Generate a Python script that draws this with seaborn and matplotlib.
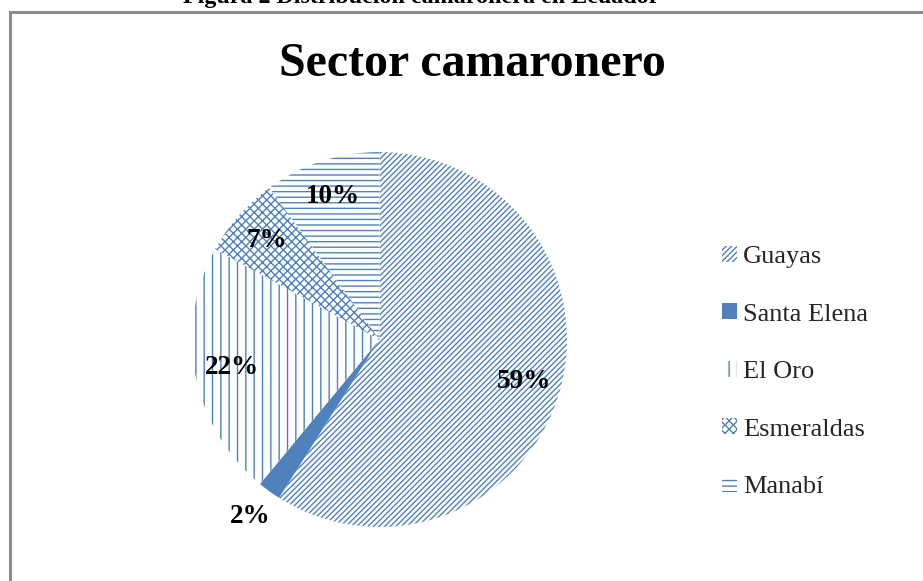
import numpy as np
import matplotlib
matplotlib.use("Agg")
import matplotlib.pyplot as plt
import seaborn as sns
from matplotlib.patches import Rectangle

categories = ["Guayas", "Santa Elena", "El Oro", "Esmeraldas", "Manabí"]
shares = [59, 2, 22, 7, 10]
pct_labels = ["59%", "2%", "22%", "7%", "10%"]
title = "Sector camaronero"
caption = "Figura 2 Distribución camaronera en Ecuador"

sns.set_theme(style="white")
plt.rcParams["font.family"] = ["Liberation Serif", "DejaVu Serif"]
plt.rcParams["hatch.linewidth"] = 1.0

blue = "#4F81BD"
hatches = ["//////", None, "||", "xxxx", "---"]

W, H = 923, 581
fig = plt.figure(figsize=(W / 100, H / 100), dpi=100)

# outer chart frame
fig.patches.append(Rectangle((9.5 / W, -0.05), 1.2, 1 - 11.5 / H + 0.05,
                             transform=fig.transFigure, fill=False,
                             edgecolor="#8c8c8c", linewidth=2.2))

cx, cy, r = 379.5, 339.5, 187.5
ax = fig.add_axes([(cx - r) / W, (H - cy - r) / H, 2 * r / W, 2 * r / H])
wedges, _ = ax.pie(shares, startangle=90, counterclock=False, radius=1,
                   wedgeprops=dict(linewidth=0))
for w, h in zip(wedges, hatches):
    if h is None:
        w.set_facecolor(blue)
        w.set_edgecolor(blue)
    else:
        w.set_facecolor("white")
        w.set_edgecolor(blue)
        w.set_hatch(h)
ax.set_xlim(-1, 1)
ax.set_ylim(-1, 1)
ax.set_aspect("equal")
ax.axis("off")

for w, lab, v in zip(wedges, pct_labels, shares):
    ang = np.deg2rad((w.theta1 + w.theta2) / 2)
    d = 1.17 if v < 5 else 0.8
    ax.text(d * np.cos(ang), d * np.sin(ang), lab, ha="center", va="center",
            fontsize=19.5, fontweight="bold", color="black")

fig.text(472 / W, 1 - 76 / H, title, ha="center", va="baseline",
         fontsize=34.5, fontweight="bold", color="black")
fig.text(421 / W, 1 - 3.5 / H, caption, ha="center", va="baseline",
         fontsize=17.3, fontweight="bold", color="black")

leg = fig.legend(wedges, categories, loc="center left",
                 bbox_to_anchor=(722 / W, 1 - 372 / H), frameon=False,
                 fontsize=19, handlelength=0.55, handleheight=0.55,
                 handletextpad=0.25, labelspacing=1.33, borderaxespad=0,
                 borderpad=0)

fig.savefig("out.png", dpi=100)
